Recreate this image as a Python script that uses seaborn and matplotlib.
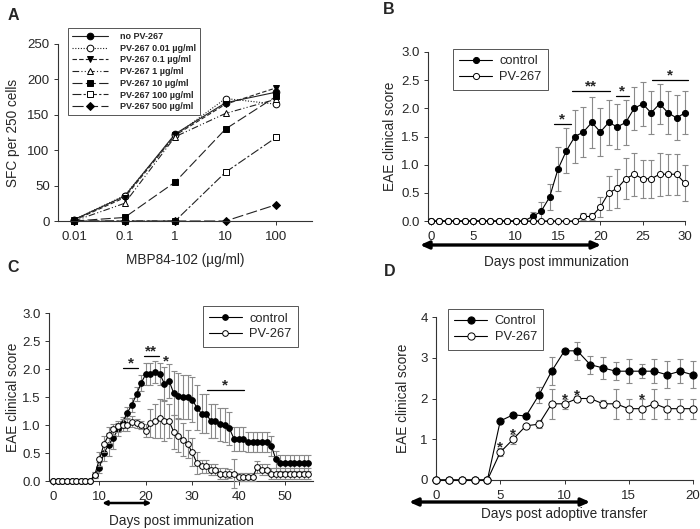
import numpy as np
import pandas as pd
import matplotlib
matplotlib.use("Agg")
import matplotlib.pyplot as plt
import seaborn as sns

sns.set_style("ticks")
plt.rcParams['font.family'] = ['Liberation Sans', 'DejaVu Sans']

# ---------------- Panel A data ----------------
conc_mbp = [0.01, 0.1, 1, 10, 100]
conc_ticklabels = ['0.01', '0.1', '1', '10', '100']
a_labels = ['no PV-267', 'PV-267 0.01 \u00b5g/ml', 'PV-267 0.1 \u00b5g/ml', 'PV-267 1 \u00b5g/ml',
            'PV-267 10 \u00b5g/ml', 'PV-267 100 \u00b5g/ml', 'PV-267 500 \u00b5g/ml']
sfc_none = [2, 35, 123, 167, 182]
sfc_001 = [2, 36, 121, 173, 165]
sfc_01 = [1, 33, 121, 165, 188]
sfc_1 = [0, 25, 119, 152, 172]
sfc_10 = [0, 5, 55, 130, 176]
sfc_100 = [0, 0, 0, 69, 118]
sfc_500 = [0, 0, 0, 0, 23]

# ---------------- Panel B data ----------------
b_days = list(range(0, 31))
b_control = [0]*12 + [0.08, 0.17, 0.42, 0.92, 1.25, 1.5, 1.58, 1.75, 1.58, 1.75, 1.67, 1.75,
                      2.0, 2.08, 1.92, 2.08, 1.92, 1.83, 1.92]
b_control_err = [0]*12 + [0.08, 0.17, 0.23, 0.39, 0.4, 0.47, 0.45, 0.46, 0.42, 0.4, 0.4, 0.4,
                          0.38, 0.39, 0.38, 0.35, 0.38, 0.4, 0.38]
b_pv = [0]*18 + [0.08, 0.08, 0.25, 0.5, 0.58, 0.75, 0.83, 0.75, 0.75, 0.83, 0.83, 0.83, 0.67]
b_pv_err = [0]*18 + [0.06, 0.06, 0.18, 0.3, 0.35, 0.36, 0.38, 0.34, 0.34, 0.38, 0.36, 0.36, 0.32]

# ---------------- Panel C data ----------------
c_days = list(range(0, 56))
c_control = [0]*9 + [0.11, 0.24, 0.5, 0.65, 0.77, 0.92, 1.04, 1.22, 1.36, 1.55, 1.75, 1.91, 1.91,
                     1.95, 1.91, 1.74, 1.79, 1.57, 1.52, 1.5, 1.5, 1.45, 1.31, 1.2, 1.2, 1.07, 1.07,
                     1.01, 1.0, 0.94, 0.75, 0.75, 0.75, 0.69, 0.69, 0.69, 0.69, 0.69, 0.63, 0.39,
                     0.32, 0.32, 0.32, 0.32, 0.32, 0.32, 0.32]
c_control_err = [0]*9 + [0.05, 0.1, 0.15, 0.2, 0.2, 0.12, 0.1, 0.1, 0.12, 0.12, 0.15, 0.2, 0.2,
                         0.2, 0.2, 0.3, 0.3, 0.4, 0.4, 0.4, 0.4, 0.4, 0.4, 0.35, 0.35, 0.3, 0.3,
                         0.3, 0.3, 0.3, 0.22, 0.22, 0.22, 0.18, 0.18, 0.18, 0.18, 0.18, 0.18, 0.15,
                         0.15, 0.15, 0.15, 0.15, 0.15, 0.15, 0.15]
c_pv = [0]*9 + [0.11, 0.39, 0.66, 0.82, 0.92, 0.98, 1.0, 1.0, 1.06, 1.03, 1.0, 0.9, 1.03,
                1.07, 1.12, 1.07, 1.07, 0.88, 0.81, 0.74, 0.66, 0.51, 0.32, 0.26, 0.26, 0.2, 0.2,
                0.13, 0.13, 0.13, 0.13, 0.07, 0.07, 0.07, 0.07, 0.25, 0.2, 0.2, 0.13, 0.13,
                0.13, 0.13, 0.13, 0.13, 0.13, 0.13, 0.13]
c_pv_err = [0]*9 + [0.05, 0.12, 0.15, 0.15, 0.1, 0.1, 0.1, 0.1, 0.1, 0.08, 0.08, 0.12, 0.25,
                    0.3, 0.35, 0.35, 0.3, 0.3, 0.3, 0.3, 0.25, 0.25, 0.2, 0.12, 0.12, 0.1, 0.1,
                    0.1, 0.1, 0.08, 0.26, 0.07, 0.07, 0.07, 0.07, 0.1, 0.1, 0.1, 0.1, 0.1,
                    0.1, 0.1, 0.1, 0.1, 0.1, 0.1, 0.1]

# ---------------- Panel D data ----------------
d_days = list(range(0, 21))
d_control = [0, 0, 0, 0, 0, 1.45, 1.6, 1.57, 2.08, 2.67, 3.17, 3.17, 2.83, 2.75, 2.67, 2.67,
             2.67, 2.67, 2.58, 2.67, 2.58]
d_control_err = [0, 0, 0, 0, 0, 0, 0, 0, 0.2, 0.35, 0.05, 0.22, 0.22, 0.28, 0.22, 0.3,
                 0.17, 0.3, 0.33, 0.3, 0.33]
d_pv = [0, 0, 0, 0, 0, 0.68, 1.0, 1.33, 1.37, 1.87, 1.87, 2.0, 2.0, 1.87, 1.87, 1.75,
        1.75, 1.87, 1.75, 1.75, 1.75]
d_pv_err = [0, 0, 0, 0, 0, 0.1, 0.12, 0.05, 0.1, 0.37, 0.12, 0.05, 0, 0.1, 0.37, 0.25,
            0.25, 0.37, 0.25, 0.25, 0.25]

W, H = 700, 529
fig = plt.figure(figsize=(7.0, 5.29), dpi=100)

TICK_FS = 9.5
LABEL_FS = 9.8
LEG_FS = 9.3


def ax_at(l, r, t, b):
    return fig.add_axes([l / W, 1 - b / H, (r - l) / W, (b - t) / H])


SPINE = '#333333'
ERRC = '#8a8a8a'


def style_ax(ax):
    sns.despine(ax=ax)
    for s in ['left', 'bottom']:
        ax.spines[s].set_linewidth(0.8)
        ax.spines[s].set_color(SPINE)
    ax.tick_params(axis='both', length=3, width=0.7, color=SPINE, labelsize=TICK_FS)
    ax.tick_params(axis='x', pad=4)
    ax.tick_params(axis='y', pad=3)
    ax.minorticks_off()


def series(ax, x, y, err, filled, ms, label, z):
    df = pd.DataFrame({'x': x, 'y': y})
    e = np.array(err)
    m = e > 0
    if m.any():
        ax.errorbar(np.array(x)[m], np.array(y)[m], yerr=e[m], fmt='none', ecolor=ERRC,
                    elinewidth=0.8, capsize=2.2, capthick=0.8, zorder=z - 1, clip_on=False)
    sns.lineplot(data=df, x='x', y='y', ax=ax, color='black', lw=0.8, marker='o',
                 markersize=ms, markerfacecolor='black' if filled else 'white',
                 markeredgecolor='black', markeredgewidth=0.7, label=label, zorder=z,
                 clip_on=False, errorbar=None)


def star(ax, x, y, s='*', fs=11):
    ax.text(x, y, s, ha='center', va='baseline', fontsize=fs, fontweight='bold',
            clip_on=False)


def sigline(ax, x0, x1, y, s):
    ax.plot([x0, x1], [y, y], color='black', lw=0.9, clip_on=False)
    star(ax, (x0 + x1) / 2, y + 0.01, s)


def place_legend(ax, loc, x, y):
    ax.legend(loc=loc, bbox_to_anchor=(x / W, 1 - y / H), bbox_transform=fig.transFigure,
              fontsize=LEG_FS, handlelength=2.5, handletextpad=0.6, labelspacing=0.3,
              borderpad=0.5, borderaxespad=0, fancybox=False, edgecolor='#555555',
              framealpha=1)
    ax.get_legend().get_frame().set_linewidth(0.7)


def dbl_arrow(ax, x0, x1, y, lw, hl, hw):
    ax.annotate('', xy=(x0, y), xytext=(x1, y),
                xycoords=('data', 'axes fraction'), textcoords=('data', 'axes fraction'),
                arrowprops=dict(arrowstyle='<|-|>,head_length=%g,head_width=%g' % (hl, hw),
                                lw=lw, color='black', shrinkA=0, shrinkB=0),
                annotation_clip=False)


# ---------------- Panel A ----------------
axA = ax_at(58, 312, 44, 221)
axA.set_xscale('log')
a_series = [sfc_none, sfc_001, sfc_01, sfc_1, sfc_10, sfc_100, sfc_500]
a_markers = ['o', 'o', 'v', '^', 's', 's', 'D']
a_filled = [True, False, True, False, True, False, True]
a_dash = ['-', (0, (1, 1.5)), (0, (4, 2)), (0, (6, 2, 1, 2, 1, 2)), (0, (9, 3)),
          (0, (8, 2, 2, 2)), (0, (10, 3))]
for vals, mk, fl, ds, lab in zip(a_series, a_markers, a_filled, a_dash, a_labels):
    df = pd.DataFrame({'x': conc_mbp, 'y': vals})
    sns.lineplot(data=df, x='x', y='y', ax=axA, color='#222222', lw=0.8, linestyle=ds,
                 marker=mk, markersize=4.8 if mk != 'D' else 4.2,
                 markerfacecolor='black' if fl else 'white', markeredgecolor='black',
                 markeredgewidth=0.7, label=lab, clip_on=False, errorbar=None)
axA.set_xlim(0.0048, 513)
axA.set_ylim(0, 250)
axA.set_xticks(conc_mbp)
axA.set_xticklabels(conc_ticklabels)
axA.set_yticks([0, 50, 100, 150, 200, 250])
style_ax(axA)
axA.set_xlabel('MBP84-102 (\u00b5g/ml)', fontsize=LABEL_FS)
axA.set_ylabel('SFC per 250 cells', fontsize=LABEL_FS)
axA.xaxis.set_label_coords(0.5, -0.18)
axA.yaxis.set_label_coords(-0.15, 0.5)
axA.legend(loc='upper left', bbox_to_anchor=(68 / W, 1 - 28 / H), bbox_transform=fig.transFigure,
           prop={'size': 6.5, 'weight': 'bold'}, handlelength=4.0, handletextpad=1.3,
           labelspacing=0.3, borderpad=0.45, borderaxespad=0, frameon=True, fancybox=False,
           edgecolor='#555555', framealpha=1)
axA.get_legend().get_frame().set_linewidth(0.7)

# ---------------- Panel B ----------------
axB = ax_at(428, 685, 52, 221)
series(axB, b_days, b_control, b_control_err, True, 4.4, 'control', 3)
series(axB, b_days, b_pv, b_pv_err, False, 4.4, 'PV-267', 5)
axB.set_xlim(-0.35, 30)
axB.set_ylim(0, 3)
axB.set_xticks(range(0, 31, 5))
axB.set_yticks(np.arange(0, 3.01, 0.5))
axB.set_yticklabels(['%.1f' % v for v in np.arange(0, 3.01, 0.5)])
style_ax(axB)
axB.set_xlabel('Days post immunization', fontsize=LABEL_FS)
axB.set_ylabel('EAE clinical score', fontsize=LABEL_FS)
axB.xaxis.set_label_coords(0.5, -0.2)
axB.yaxis.set_label_coords(-0.12, 0.5)
sigline(axB, 14.5, 16.5, 1.73, '*')
sigline(axB, 16.7, 21.1, 2.3, '**')
sigline(axB, 21.8, 23.4, 2.22, '*')
sigline(axB, 26.1, 30.4, 2.5, '*')
dbl_arrow(axB, -1.3, 20.1, -0.142, 2.4, 0.5, 0.22)
place_legend(axB, 'upper left', 453, 49)

# ---------------- Panel C ----------------
axC = ax_at(49, 313, 313, 481)
series(axC, c_days, c_control, c_control_err, True, 4.1, 'control', 3)
series(axC, c_days, c_pv, c_pv_err, False, 4.1, 'PV-267', 5)
axC.set_xlim(-0.85, 56)
axC.set_ylim(0, 3)
axC.set_xticks(range(0, 51, 10))
axC.set_yticks(np.arange(0, 3.01, 0.5))
axC.set_yticklabels(['%.1f' % v for v in np.arange(0, 3.01, 0.5)])
style_ax(axC)
axC.set_xlabel('Days post immunization', fontsize=LABEL_FS)
axC.set_ylabel('EAE clinical score', fontsize=LABEL_FS)
axC.xaxis.set_label_coords(0.5, -0.195)
axC.yaxis.set_label_coords(-0.11, 0.5)
sigline(axC, 15.1, 18.4, 2.02, '*')
sigline(axC, 19.5, 22.9, 2.23, '**')
star(axC, 24.3, 2.06)
sigline(axC, 33.1, 41.2, 1.62, '*')
dbl_arrow(axC, 10.6, 21.2, -0.131, 1.8, 0.25, 0.12)
place_legend(axC, 'upper right', 298, 306)

# ---------------- Panel D ----------------
axD = ax_at(436, 693, 317, 480)
series(axD, d_days, d_control, d_control_err, True, 5.2, 'Control', 3)
series(axD, d_days, d_pv, d_pv_err, False, 5.2, 'PV-267', 5)
axD.set_xlim(0, 20)
axD.set_ylim(0, 4)
axD.set_xticks(range(0, 21, 5))
axD.set_yticks(range(0, 5))
style_ax(axD)
axD.set_xlabel('Days post adoptive transfer', fontsize=LABEL_FS)
axD.set_ylabel('EAE clinical score', fontsize=LABEL_FS)
axD.xaxis.set_label_coords(0.5, -0.165)
axD.yaxis.set_label_coords(-0.10, 0.5)
for dx, dy in [(5, 0.9), (6, 1.23), (10, 2.09), (11, 2.17), (16, 2.09)]:
    star(axD, dx, dy - 0.2)
dbl_arrow(axD, -2.1, 12.0, -0.135, 2.4, 0.5, 0.22)
place_legend(axD, 'upper left', 448, 309)

# panel letters
for lab, px, py in [('A', 13, 15), ('B', 389, 9), ('C', 13, 268), ('D', 390, 272)]:
    fig.text(px / W, 1 - py / H, lab, fontsize=11.5, fontweight='bold', ha='center', va='center')

fig.savefig('out.png', dpi=100)
